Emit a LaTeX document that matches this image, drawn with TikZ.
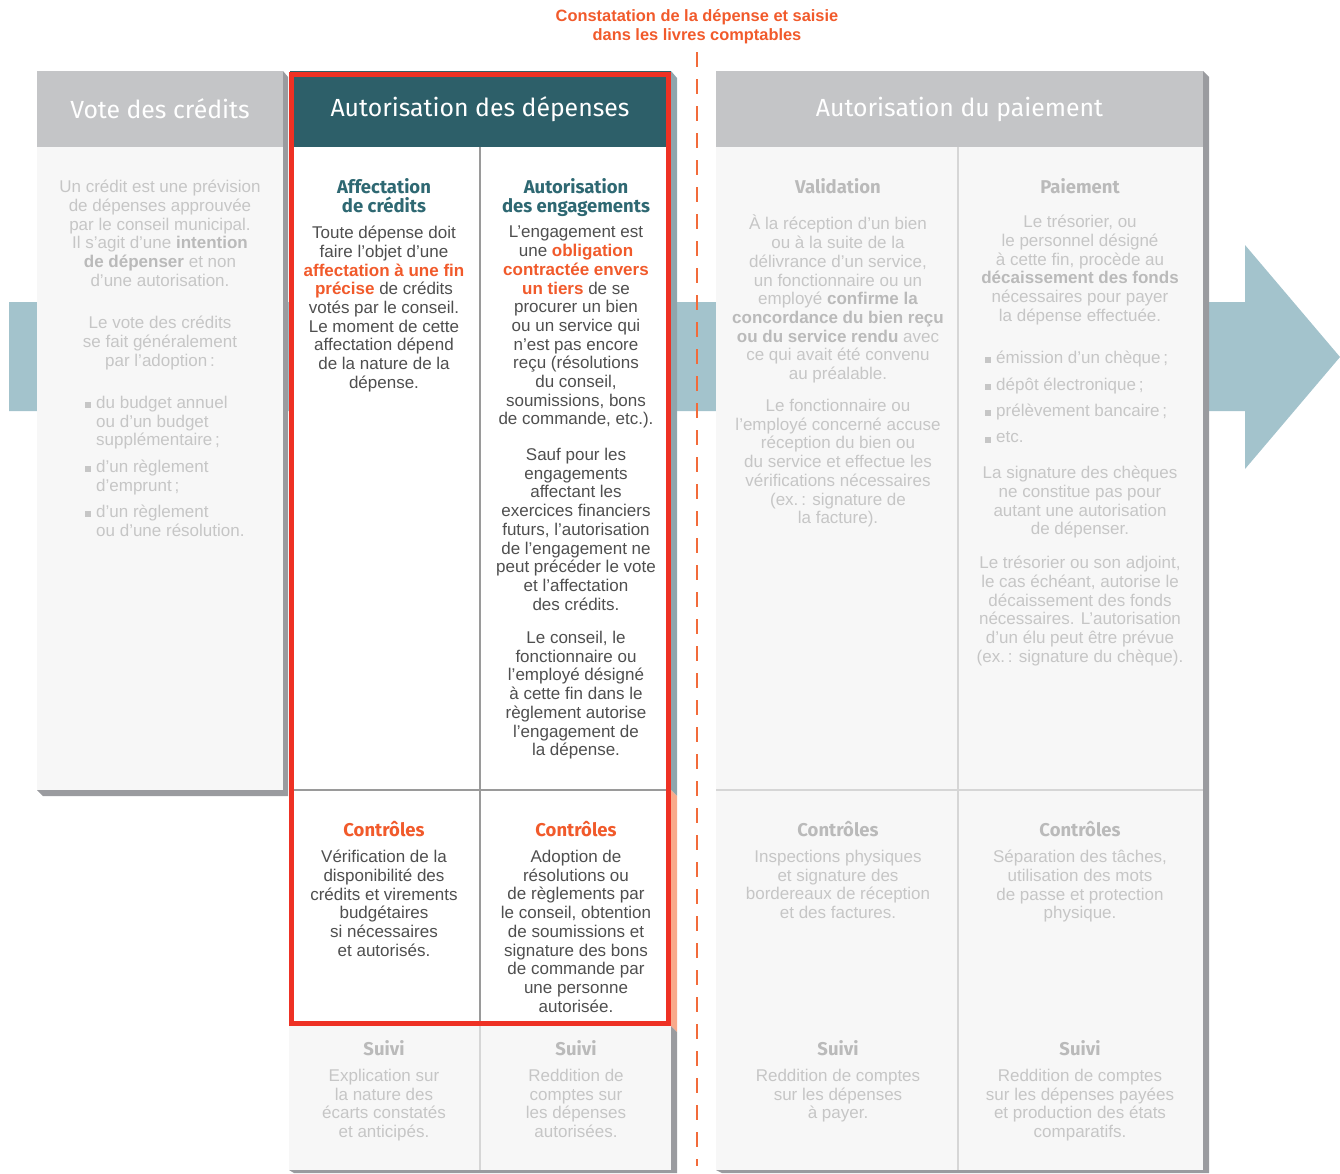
\documentclass[tikz,border=0pt]{standalone}
\usepackage{fontspec}
\setmainfont{Liberation Sans}
\newfontfamily\headfont{Fira Sans}
\usetikzlibrary{positioning}
\definecolor{ctrlBand}{HTML}{A3C3CC}
\definecolor{ctrlHeadGray}{HTML}{C4C5C7}
\definecolor{ctrlPanel}{HTML}{F7F7F7}
\definecolor{ctrlShadow}{HTML}{9A9B9F}
\definecolor{ctrlSlate}{HTML}{8FA6AD}
\definecolor{ctrlSalmon}{HTML}{F9A98A}
\definecolor{ctrlTealHead}{HTML}{2D5F69}
\definecolor{ctrlTeal}{HTML}{2E6872}
\definecolor{ctrlRed}{HTML}{EE3124}
\definecolor{ctrlOrange}{HTML}{F15A2B}
\definecolor{ctrlDash}{HTML}{F26B3A}
\definecolor{ctrlInk}{HTML}{4F4F4F}
\definecolor{ctrlFade}{HTML}{C6C6C6}
\definecolor{ctrlFadeBold}{HTML}{BABABA}
\definecolor{ctrlRule}{HTML}{9A9A9A}
\definecolor{ctrlRuleLight}{HTML}{D6D6D6}
\newcommand{\ctrlhl}[1]{\textbf{\textcolor{ctrlOrange}{#1}}}
\newcommand{\fadebf}[1]{\textbf{\textcolor{ctrlFadeBold}{#1}}}
\tikzset{
  ctrlHead/.style={
    font={\headfont\fontsize{24.8}{28}\selectfont},
    text=white,
    inner sep=0pt,
    minimum height=76pt
  },
  ctrlSub/.style={
    font={\headfont\bfseries\fontsize{18.5}{19}\selectfont},
    text=ctrlTeal,
    align=center,
    inner sep=0pt,
    anchor=north
  },
  ctrlSubFaded/.style={ctrlSub, text=ctrlFadeBold},
  ctrlCheck/.style={ctrlSub, text=ctrlOrange},
  ctrlBody/.style={
    font=\fontsize{17}{18.7}\selectfont,
    text=ctrlInk,
    align=center,
    inner sep=0pt,
    anchor=north
  },
  ctrlFaded/.style={ctrlBody, text=ctrlFade},
  ctrlList/.style={ctrlFaded, align=left, anchor=north west},
  ctrlBullet/.style={fill=ctrlFade, minimum size=6pt, inner sep=0pt},
  ctrlDashed/.style={ctrlDash, line width=2.5pt, dash pattern=on 15pt off 12pt}
}
\begin{document}
\begin{tikzpicture}[x=1pt,y=-1pt]
  \useasboundingbox (0,0) rectangle (1340,1173);
  % flow arrow behind the panels
  \fill[ctrlBand] (9,302) -- (1245,302) -- (1245,245) -- (1340,357)
    -- (1245,469) -- (1245,411) -- (9,411) -- cycle;

  % vote des credits
  \fill[ctrlShadow] (283,71) -- (288,77) -- (288,796) -- (43,796)
    -- (37,790) -- (283,790) -- cycle;
  \fill[ctrlPanel] (37,147) rectangle (283,790);
  \node[ctrlHead, fill=ctrlHeadGray, minimum width=246pt] (voteHead)
    at (160,109) {Vote des crédits};

  % autorisation des depenses
  \fill[ctrlSlate] (671,71) -- (677,78) -- (677,796) -- (671,790) -- cycle;
  \fill[ctrlSalmon] (671,790) -- (677,796) -- (677,1032) -- (671,1026) -- cycle;
  \fill[ctrlShadow] (671,1026) -- (677,1032) -- (677,1173) -- (294,1173)
    -- (289,1170) -- (671,1170) -- cycle;
  \fill[white] (289,147) rectangle (671,1026);
  \fill[ctrlPanel] (289,1026) rectangle (671,1170);
  \draw[ctrlRule, line width=1.5pt] (480,147) -- (480,1024);
  \draw[ctrlRuleLight, line width=1.5pt] (480,1024) -- (480,1170);
  \draw[ctrlRule, line width=1.5pt] (289,790) -- (671,790);
  \node[ctrlHead, fill=ctrlTealHead, minimum width=381pt] (depHead)
    at (480,109) {Autorisation des dépenses};
  \draw[ctrlRed, line width=5pt] (291,74) rectangle (668.5,1023.5);

  % autorisation du paiement
  \fill[ctrlShadow] (1203,71) -- (1209,77) -- (1209,1173) -- (722,1173)
    -- (716,1170) -- (1203,1170) -- cycle;
  \fill[ctrlPanel] (716,147) rectangle (1203,1170);
  \draw[ctrlRuleLight, line width=1.5pt] (958,147) -- (958,1170);
  \draw[ctrlRuleLight, line width=1.5pt] (716,790) -- (1203,790);
  \node[ctrlHead, fill=ctrlHeadGray, minimum width=487pt] (payHead)
    at (959.5,109) {Autorisation du paiement};

  % constatation de la depense
  \node[font=\bfseries\fontsize{16.4}{19}\selectfont, text=ctrlOrange,
    align=center, inner sep=0pt] (constat) at (697,27)
    {Constatation de la dépense et saisie\\dans les livres comptables};
  \coordinate (dashTop) at (697,52);
  \coordinate (dashEnd) at (697,1166);
  \draw[ctrlDashed] (dashTop) -- (dashEnd);

  % textes : vote des credits
  \node[ctrlFaded] (voteTxt) at (160,180)
    {Un crédit est une prévision\\de dépenses approuvée\\par le conseil municipal.\\
     Il s’agit d’une \fadebf{intention}\\\fadebf{de dépenser} et non\\d’une autorisation.};
  \node[ctrlFaded] (voteAdopt) at (160,316)
    {Le vote des crédits\\se fait généralement\\par l’adoption\,:};
  \node[ctrlBullet] (voteB1) at (88,405) {};
  \node[ctrlBullet] (voteB2) at (88,469) {};
  \node[ctrlBullet] (voteB3) at (88,514) {};
  \node[ctrlList] (voteL1) at (96,396)
    {du budget annuel\\ou d’un budget\\supplémentaire\,;};
  \node[ctrlList] (voteL2) at (96,460) {d’un règlement\\d’emprunt\,;};
  \node[ctrlList] (voteL3) at (96,505) {d’un règlement\\ou d’une résolution.};

  % textes : affectation de credits
  \node[ctrlSub] (affHead) at (384,178) {Affectation\\de crédits};
  \node[ctrlBody] (affTxt) at (384,226)
    {Toute dépense doit\\faire l’objet d’une\\\ctrlhl{affectation à une fin}\\
     \ctrlhl{précise} de crédits\\votés par le conseil.\\Le moment de cette\\
     affectation dépend\\de la nature de la\\dépense.};
  \node[ctrlCheck] (affCheck) at (384,821) {Contrôles};
  \node[ctrlBody] (affCheckTxt) at (384,850)
    {Vérification de la\\disponibilité des\\crédits et virements\\budgétaires\\
     si nécessaires\\et autorisés.};
  \node[ctrlSubFaded] (affSuivi) at (384,1040) {Suivi};
  \node[ctrlFaded] (affSuiviTxt) at (384,1069)
    {Explication sur\\la nature des\\écarts constatés\\et anticipés.};

  % textes : autorisation des engagements
  \node[ctrlSub] (engHead) at (576,178) {Autorisation\\des engagements};
  \node[ctrlBody] (engTxt) at (576,226)
    {L’engagement est\\une \ctrlhl{obligation}\\\ctrlhl{contractée envers}\\
     \ctrlhl{un tiers} de se\\procurer un bien\\ou un service qui\\n’est pas encore\\
     reçu (résolutions\\du conseil,\\soumissions, bons\\de commande, etc.).};
  \node[ctrlBody] (engSauf) at (576,448)
    {Sauf pour les\\engagements\\affectant les\\exercices financiers\\
     futurs, l'autorisation\\de l'engagement ne\\peut précéder le vote\\
     et l'affectation\\des crédits.};
  \node[ctrlBody] (engConseil) at (576,631)
    {Le conseil, le\\fonctionnaire ou\\l’employé désigné\\à cette fin dans le\\
     règlement autorise\\l’engagement de\\la dépense.};
  \node[ctrlCheck] (engCheck) at (576,821) {Contrôles};
  \node[ctrlBody] (engCheckTxt) at (576,850)
    {Adoption de\\résolutions ou\\de règlements par\\le conseil, obtention\\
     de soumissions et\\signature des bons\\de commande par\\une personne\\autorisée.};
  \node[ctrlSubFaded] (engSuivi) at (576,1040) {Suivi};
  \node[ctrlFaded] (engSuiviTxt) at (576,1069)
    {Reddition de\\comptes sur\\les dépenses\\autorisées.};

  % textes : validation
  \node[ctrlSubFaded] (valHead) at (838,178) {Validation};
  \node[ctrlFaded] (valTxt) at (838,215)
    {À la réception d’un bien\\ou à la suite de la\\délivrance d’un service,\\
     un fonctionnaire ou un\\employé \fadebf{confirme la}\\
     \fadebf{concordance du bien reçu}\\\fadebf{ou du service rendu} avec\\
     ce qui avait été convenu\\au préalable.};
  \node[ctrlFaded] (valAccuse) at (838,399)
    {Le fonctionnaire ou\\l’employé concerné accuse\\réception du bien ou\\
     du service et effectue les\\vérifications nécessaires\\(ex.\,: signature de\\
     la facture).};
  \node[ctrlSubFaded] (valCheck) at (838,821) {Contrôles};
  \node[ctrlFaded] (valCheckTxt) at (838,850)
    {Inspections physiques\\et signature des\\bordereaux de réception\\
     et des factures.};
  \node[ctrlSubFaded] (valSuivi) at (838,1040) {Suivi};
  \node[ctrlFaded] (valSuiviTxt) at (838,1069)
    {Reddition de comptes\\sur les dépenses\\à payer.};

  % textes : paiement
  \node[ctrlSubFaded] (payHeadSub) at (1080,178) {Paiement};
  \node[ctrlFaded] (payTxt) at (1080,215)
    {Le trésorier, ou\\le personnel désigné\\à cette fin, procède au\\
     \fadebf{décaissement des fonds}\\nécessaires pour payer\\la dépense effectuée.};
  \node[ctrlBullet] (payB1) at (988,360) {};
  \node[ctrlBullet] (payB2) at (988,387) {};
  \node[ctrlBullet] (payB3) at (988,413) {};
  \node[ctrlBullet] (payB4) at (988,440) {};
  \node[ctrlList] (payL1) at (996,351) {émission d’un chèque\,;};
  \node[ctrlList] (payL2) at (996,378) {dépôt électronique\,;};
  \node[ctrlList] (payL3) at (996,404) {prélèvement bancaire\,;};
  \node[ctrlList] (payL4) at (996,431) {etc.};
  \node[ctrlFaded] (paySign) at (1080,466)
    {La signature des chèques\\ne constitue pas pour\\autant une autorisation\\
     de dépenser.};
  \node[ctrlFaded] (payAdjoint) at (1080,556)
    {Le trésorier ou son adjoint,\\le cas échéant, autorise le\\
     décaissement des fonds\\nécessaires. L’autorisation\\d’un élu peut être prévue\\
     (ex.\,: signature du chèque).};
  \node[ctrlSubFaded] (payCheck) at (1080,821) {Contrôles};
  \node[ctrlFaded] (payCheckTxt) at (1080,850)
    {Séparation des tâches,\\utilisation des mots\\de passe et protection\\physique.};
  \node[ctrlSubFaded] (paySuivi) at (1080,1040) {Suivi};
  \node[ctrlFaded] (paySuiviTxt) at (1080,1069)
    {Reddition de comptes\\sur les dépenses payées\\et production des états\\
     comparatifs.};
\end{tikzpicture}
\end{document}
